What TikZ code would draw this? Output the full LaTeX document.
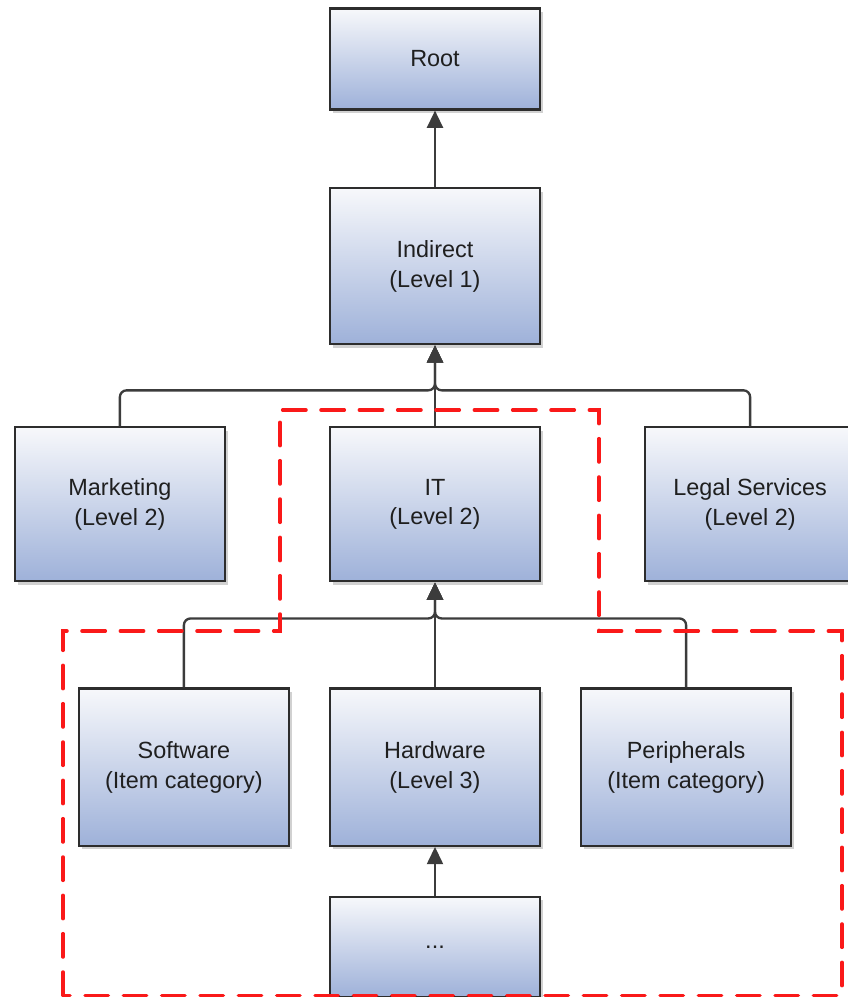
\documentclass[tikz,border=0pt]{standalone}
\usepackage{fontspec}
\setmainfont{Liberation Sans}
\usepackage{tikz}
\usetikzlibrary{positioning, arrows.meta, shadows, calc}
\usepackage{xcolor}
\definecolor{boxtop}{RGB}{247, 248, 251}
\definecolor{boxbottom}{RGB}{158, 177, 217}
\definecolor{boxline}{RGB}{45, 45, 45}
\definecolor{linkgray}{RGB}{60, 60, 60}
\definecolor{groupred}{RGB}{250, 25, 25}

\begin{document}
\begin{tikzpicture}[
    level/.style={
      draw=boxline, line width=1.8pt, minimum width=6.3cm,
      minimum height=4.68cm, align=center, inner sep=2pt,
      top color=boxtop, bottom color=boxbottom,
      font=\fontsize{20}{25.5}\selectfont, text=black!88,
      drop shadow={shadow xshift=0.1cm, shadow yshift=-0.1cm,
                   fill=black, opacity=0.18}
    },
    link/.style={
      draw=linkgray, line width=2pt, rounded corners=0.2cm,
      -{Triangle[length=0.52cm, width=0.48cm]}
    },
    group/.style={
      draw=groupred, line width=3pt, line cap=round,
      dash pattern=on 0.7cm off 0.45cm
    },
    node distance=2.4cm,
]
    \useasboundingbox (0,0) rectangle (25.44,-29.91);
    \clip (0,0) rectangle (25.44,-29.91);

    \node[level, minimum height=3.03cm] (root) at (13.05,-1.77) {Root};

    \node[level, below=2.3cm of root] (indirect) {Indirect\\(Level 1)};

    % Level 2
    \node[level, minimum height=4.62cm, below=2.43cm of indirect] (it) {IT\\(Level 2)};
    \node[level, minimum height=4.62cm, left=3.09cm of it] (marketing) {Marketing\\(Level 2)};
    \node[level, minimum height=4.62cm, right=3.09cm of it] (legal) {Legal Services\\(Level 2)};

    % Level 3
    \node[level, minimum height=4.72cm, below=3.15cm of it] (hardware) {Hardware\\(Level 3)};
    \node[level, minimum height=4.72cm, left=1.17cm of hardware] (software) {Software\\(Item category)};
    \node[level, minimum height=4.72cm, right=1.17cm of hardware] (peripherals) {Peripherals\\(Item category)};

    \node[level, minimum height=3.0cm, below=1.47cm of hardware] (more) {...};

    % Links
    \draw[link] (indirect) -- (root);

    \coordinate (busone) at ($(indirect.south)+(0,-1.35)$);
    \draw[link] (marketing.north) |- (busone) -- (indirect.south);
    \draw[link] (legal.north) |- (busone) -- (indirect.south);
    \draw[link] (it.north) -- (indirect.south);

    \coordinate (bustwo) at ($(it.south)+(0,-1.08)$);
    \draw[link] (software.north) |- (bustwo) -- (it.south);
    \draw[link] (peripherals.north) |- (bustwo) -- (it.south);
    \draw[link] (hardware.north) -- (it.south);

    \draw[link] (more.north) -- (hardware.south);

    % Group outline
    \draw[group] (1.89,-29.86) -- (1.89,-18.93) -- (8.4,-18.93) -- (8.4,-12.3)
      -- (17.97,-12.3) -- (17.97,-18.93) -- (25.26,-18.93) -- (25.26,-29.86) -- cycle;
\end{tikzpicture}
\end{document}
